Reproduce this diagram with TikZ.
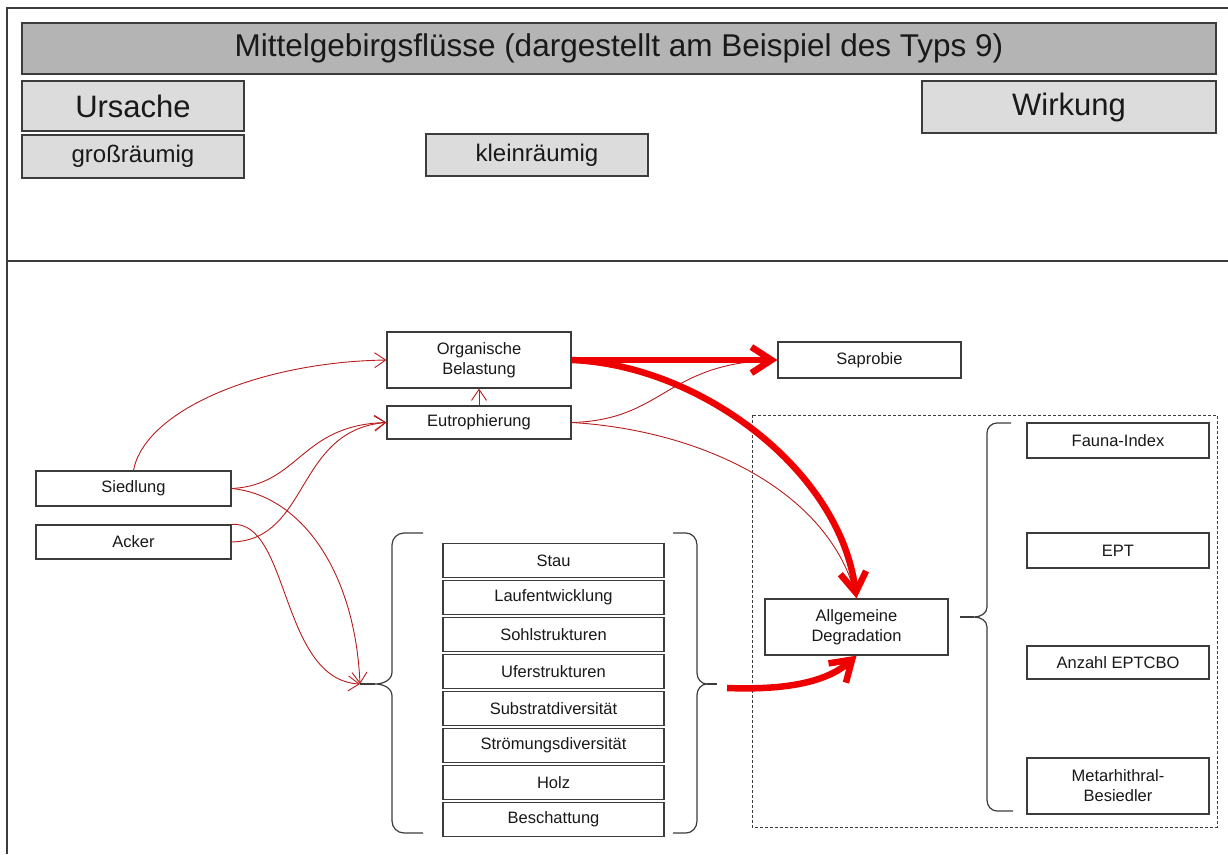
\documentclass[tikz,border=0pt]{standalone}
\usepackage{fontspec}
\setmainfont{Liberation Sans}
\usetikzlibrary{arrows.meta}
\definecolor{edge}{HTML}{3C3C3C}
\definecolor{headgray}{HTML}{B4B4B4}
\definecolor{tabgray}{HTML}{DCDCDC}
\definecolor{thinred}{HTML}{B81C1C}
\definecolor{thickred}{HTML}{EE0000}
\tikzset{
  box/.style={draw=edge, line width=1.3pt, fill=white, inner sep=0pt, align=center,
    text=black!90, font=\fontsize{16.5}{20}\selectfont},
  header/.style={box, fill=headgray, font=\fontsize{31.5}{36}\selectfont},
  bigtab/.style={box, fill=tabgray, font=\fontsize{31}{36}\selectfont},
  smalltab/.style={box, fill=tabgray, font=\fontsize{24}{28}\selectfont},
  brace/.style={draw=edge, line width=1.2pt},
  frame/.style={draw=edge, line width=1.5pt},
  region/.style={draw=edge, line width=1pt, dash pattern=on 3pt off 2pt},
  weak/.style={draw=thinred, line width=0.9pt},
  weakarrow/.style={weak, -{Straight Barb[length=11pt,width=15pt]}},
  strong/.style={draw=thickred, line width=6.5pt,
    -{Straight Barb[length=20pt,width=26pt]}},
}
\begin{document}
\begin{tikzpicture}[x=1pt, y=-1pt]
\useasboundingbox (0,0) rectangle (1228,854);

% page frame and divider
\draw[frame] (7,854) -- (7,8) -- (1228,8);
\draw[frame] (7,261) -- (1228,261);

% header area
\node[header, minimum width=1194pt, minimum height=51pt] (title) at (619,48.5)
  {Mittelgebirgsflüsse (dargestellt am Beispiel des Typs 9)};
\node[bigtab, minimum width=222pt, minimum height=50pt] (ursache) at (133,106) {Ursache};
\node[smalltab, minimum width=222pt, minimum height=43pt] (gross) at (133,156.5) {großräumig};
\node[smalltab, minimum width=222pt, minimum height=42pt] (klein) at (537,155) {kleinräumig};
\node[bigtab, minimum width=294pt, minimum height=52pt] (wirkung) at (1069,107) {Wirkung};

% effect region
\draw[region] (752,415) rectangle (1217,827);

% causes
\node[box, minimum width=184pt, minimum height=56pt] (org) at (479,360) {Organische\\Belastung};
\node[box, minimum width=184pt, minimum height=33pt] (eut) at (479,422.5) {Eutrophierung};
\node[box, minimum width=195pt, minimum height=35pt] (sied) at (133.5,488.5) {Siedlung};
\node[box, minimum width=195pt, minimum height=34pt] (acker) at (133.5,542) {Acker};
\node[box, minimum width=183pt, minimum height=36pt] (sap) at (869.5,360) {Saprobie};

% small-scale structures
\foreach \t [count=\i] in {Stau,Laufentwicklung,Sohlstrukturen,Uferstrukturen,
    Substratdiversität,Strömungsdiversität,Holz,Beschattung}
  \node[box, minimum width=221pt, minimum height=34pt] (s\i) at (553.5,523.5+37*\i) {\t};

% effects
\node[box, minimum width=183pt, minimum height=56pt] (allg) at (856.5,627) {Allgemeine\\Degradation};
\node[box, minimum width=182pt, minimum height=35pt] (fauna) at (1118,440.5) {Fauna-Index};
\node[box, minimum width=182pt, minimum height=35pt] (ept) at (1118,550.5) {EPT};
\node[box, minimum width=182pt, minimum height=33pt] (anz) at (1118,662.5) {Anzahl EPTCBO};
\node[box, minimum width=182pt, minimum height=56pt] (meta) at (1118,786) {Metarhithral-\\Besiedler};

% braces
\coordinate (lb) at (360,684);
\draw[brace] (423,533) -- (404,533) to[out=180,in=90] (392,545) -- (392,672)
  to[out=-90,in=0] (375,684) to[out=0,in=90] (392,696) -- (392,821)
  to[out=-90,in=180] (404,833) -- (423,833);
\draw[brace] (375,684) -- (lb);

\coordinate (rbtip) at (717,684);
\coordinate (rb) at (727,688);
\draw[brace] (673,533) -- (686,533) to[out=0,in=90] (697,545) -- (697,673)
  to[out=-90,in=180] (707,684) to[out=180,in=90] (697,695) -- (697,821)
  to[out=-90,in=0] (686,833) -- (673,833);
\draw[brace] (707,684) -- (rbtip);

\coordinate (ab) at (960,617);
\draw[brace] (1011,423) -- (997,423) to[out=180,in=90] (987,433) -- (987,607)
  to[out=-90,in=0] (974,617) to[out=0,in=90] (987,627) -- (987,800)
  to[out=-90,in=180] (997,811) -- (1013,811);
\draw[brace] (974,617) -- (ab);

% thin connectors
\draw[weakarrow] (sied.north) .. controls (145,410) and (260,362) .. (org.west);
\draw[weakarrow] (eut.north) -- (org.south);
\draw[weakarrow] (sied.east) .. controls (300,485) and (300,425) .. (eut.west);
\draw[weakarrow] (acker.east) .. controls (310,540) and (295,430) .. (eut.west);
\draw[weakarrow] (sied.east) .. controls (300,495) and (355,570) .. (lb);
\draw[weakarrow] (acker.north east) .. controls (290,520) and (280,680) .. (lb);
\draw[weak] (eut.east) .. controls (665,420) and (665,362) .. (sap.west);
\draw[weak] (eut.east) .. controls (700,430) and (830,490) .. (allg.north);

% strong connectors
\draw[strong] (org.east) -- (sap.west);
\draw[strong] (org.east) .. controls (700,365) and (840,470) .. (allg.north);
\draw[strong] (rb) .. controls (780,690) and (825,684) .. (allg.south);
\end{tikzpicture}
\end{document}
